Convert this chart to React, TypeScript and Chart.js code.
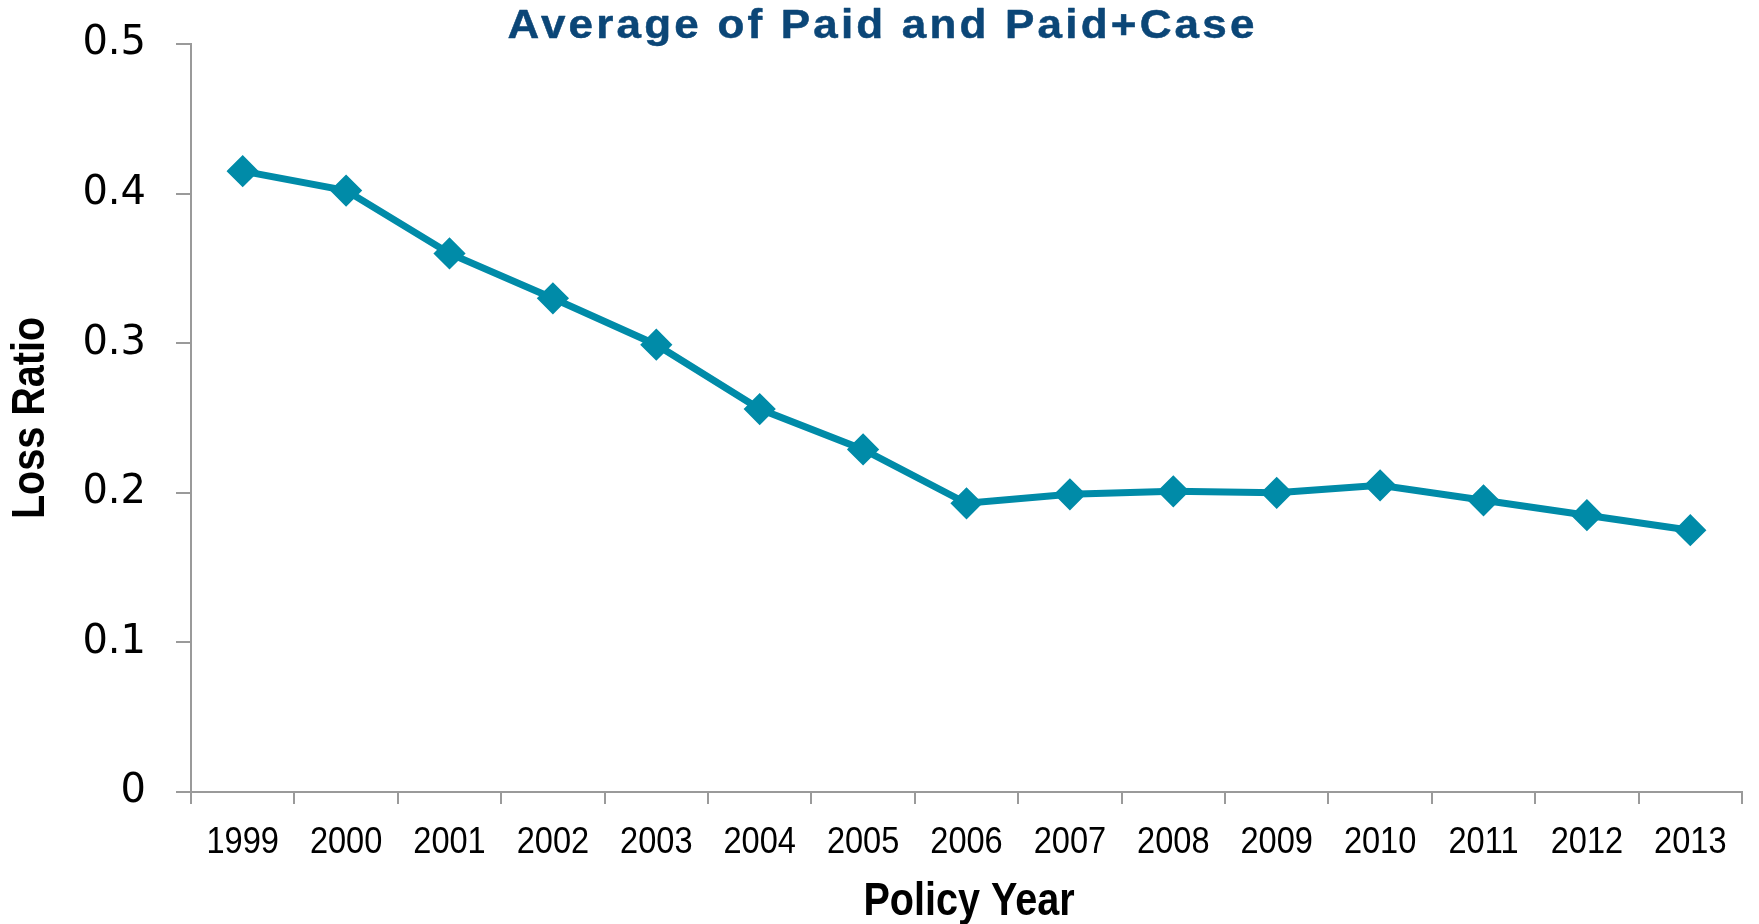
import React, { useEffect, useRef } from "react";
import { Chart, registerables } from "chart.js";

Chart.register(...registerables);

const chartTitle = "Average of Paid and Paid+Case";
const xAxisTitle = "Policy Year";
const yAxisTitle = "Loss Ratio";

const policyYears = [
  "1999", "2000", "2001", "2002", "2003", "2004", "2005", "2006",
  "2007", "2008", "2009", "2010", "2011", "2012", "2013",
];

const lossRatios = [
  0.415, 0.402, 0.36, 0.33, 0.299, 0.256, 0.229, 0.193,
  0.199, 0.201, 0.2, 0.205, 0.195, 0.185, 0.175,
];

const yTicks = [0, 0.1, 0.2, 0.3, 0.4, 0.5];
const yTickLabels = ["0", "0.1", "0.2", "0.3", "0.4", "0.5"];

const LINE_COLOR = "#008BA8";
const AXIS_COLOR = "#9a9a9a";
const SANS = "'Liberation Sans', Arial, sans-serif";

// Writes text scaled horizontally (condensed or widened face).
function stretchedText(ctx: CanvasRenderingContext2D, text: string, x: number, y: number, sx: number, outline = 0) {
  ctx.save();
  ctx.translate(x, y);
  ctx.scale(sx, 1);
  if (outline > 0) {
    ctx.lineWidth = outline;
    ctx.strokeStyle = ctx.fillStyle as string;
    ctx.lineJoin = "round";
    ctx.strokeText(text, 0, 0);
  }
  ctx.fillText(text, 0, 0);
  ctx.restore();
}

// Draws the heading, tick labels and both axis titles.
const textPlugin = {
  id: "chartTexts",
  afterDraw(chart: any) {
    const { ctx, chartArea } = chart;
    const xScale = chart.scales.x;
    const yScale = chart.scales.y;
    ctx.save();
    ctx.textBaseline = "middle";

    // heading
    ctx.textAlign = "center";
    ctx.fillStyle = "#0B4677";
    ctx.font = "bold 40px " + SANS;
    const widen = 1.1;
    const natural = ctx.measureText(chartTitle).width * widen;
    const spacing = Math.max(0, (750 - natural) / chartTitle.length / widen);
    (ctx as any).letterSpacing = spacing + "px";
    stretchedText(ctx, chartTitle, 881 + (spacing * widen) / 2, 27, widen, 0.5);
    (ctx as any).letterSpacing = "0px";

    // value labels on the left
    ctx.fillStyle = "#000";
    ctx.textAlign = "right";
    ctx.font = "40px 'DejaVu Sans', Verdana, sans-serif";
    yTicks.forEach((v, i) => {
      ctx.fillText(yTickLabels[i], 146, yScale.getPixelForValue(v));
    });

    // category labels
    ctx.textAlign = "center";
    ctx.font = "37px " + SANS;
    policyYears.forEach((label, i) => {
      stretchedText(ctx, label, xScale.getPixelForValue(i), 843, 0.88);
    });

    // axis titles
    ctx.font = "bold 46px " + SANS;
    stretchedText(ctx, xAxisTitle, 969, 902, 0.86);

    ctx.translate(31, (chartArea.top + chartArea.bottom) / 2);
    ctx.rotate(-Math.PI / 2);
    ctx.font = "bold 46px " + SANS;
    stretchedText(ctx, yAxisTitle, 0, 0, 0.86);
    ctx.restore();
  },
};

export default function App() {
  const canvasRef = useRef<HTMLCanvasElement | null>(null);

  useEffect(() => {
    if (!canvasRef.current) return;
    const chart = new Chart(canvasRef.current, {
      type: "line",
      data: {
        labels: policyYears,
        datasets: [
          {
            data: lossRatios,
            borderColor: LINE_COLOR,
            backgroundColor: LINE_COLOR,
            borderWidth: 7,
            pointStyle: "rectRot",
            pointRadius: 14,
            pointBorderWidth: 3,
            pointBorderColor: LINE_COLOR,
            pointBackgroundColor: LINE_COLOR,
            tension: 0,
          },
        ],
      },
      options: {
        responsive: false,
        animation: false,
        layout: { padding: { top: 44, right: 12, left: 0, bottom: 0 } },
        plugins: {
          legend: { display: false },
          title: { display: false },
          tooltip: { enabled: false },
        },
        scales: {
          x: {
            type: "category",
            offset: true,
            border: { display: true, color: AXIS_COLOR, width: 2 },
            grid: {
              display: true,
              offset: true,
              drawOnChartArea: false,
              drawTicks: true,
              tickLength: 12,
              color: AXIS_COLOR,
              lineWidth: 2,
            },
            ticks: { display: false },
            afterFit(scale: any) {
              scale.height = 132;
            },
          },
          y: {
            min: 0,
            max: 0.5,
            border: { display: true, color: AXIS_COLOR, width: 2 },
            grid: {
              display: true,
              drawOnChartArea: false,
              drawTicks: true,
              tickLength: 15,
              color: AXIS_COLOR,
              lineWidth: 2,
            },
            afterBuildTicks(scale: any) {
              scale.ticks = yTicks.map((v) => ({ value: v }));
            },
            ticks: { display: false },
            afterFit(scale: any) {
              scale.width = 191;
            },
          },
        },
      },
      plugins: [textPlugin],
    });
    return () => chart.destroy();
  }, []);

  return (
    <div style={{ position: "absolute", left: 0, top: 0, width: 1759, height: 924, background: "#fff" }}>
      <canvas ref={canvasRef} width={1759} height={924} style={{ display: "block" }} />
    </div>
  );
}
